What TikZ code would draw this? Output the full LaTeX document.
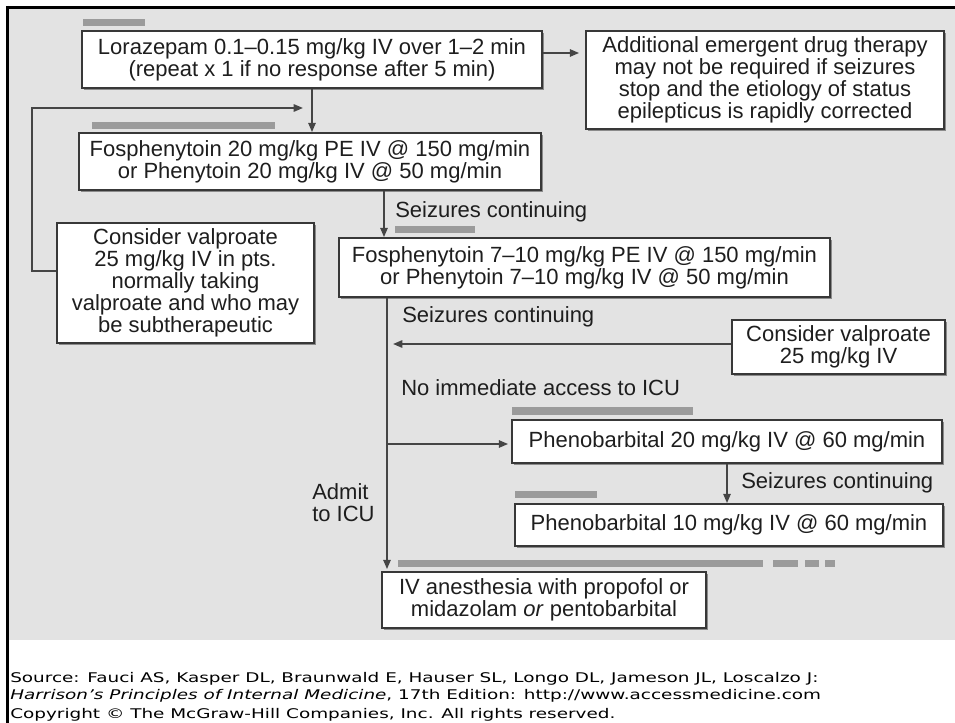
\documentclass[tikz,border=0pt]{standalone}
\usepackage{fontspec}
\setmainfont{Liberation Sans}
\newfontfamily\srcfont[FakeStretch=1.38]{DejaVu Sans}
\usetikzlibrary{arrows.meta,shadows}
\definecolor{panel}{HTML}{E3E3E3}
\definecolor{barc}{HTML}{9B9B9B}
\definecolor{linec}{HTML}{454545}
\definecolor{boxline}{HTML}{383838}
\definecolor{txt}{HTML}{1E1E1E}
\begin{document}
\begin{tikzpicture}[x=0.75pt,y=-0.75pt,
  box/.style={draw=boxline, line width=1.3pt, fill=white, align=center, inner sep=0pt, text=txt,
    font=\fontsize{16.5}{16.4}\selectfont,
    drop shadow={shadow xshift=1.3pt, shadow yshift=-1.3pt, fill=black!60, opacity=0.7}},
  lbl/.style={inner sep=0pt, text=txt, font=\fontsize{16.5}{16}\selectfont},
  conn/.style={draw=linec, line width=1.4pt},
  arr/.style={conn, -{Triangle[length=7pt,width=5.5pt]}},
  bar/.style={fill=barc},
  src/.style={anchor=west, inner sep=0pt, font=\srcfont\fontsize{10}{12}\selectfont}]
\clip (0,0) rectangle (955,723);
\fill[white] (0,0) rectangle (955,723);
\fill[panel] (9,9) rectangle (955,640);
% grey bars
\fill[bar] (83,19) rectangle (145,26);
\fill[bar] (92,122) rectangle (275,129);
\fill[bar] (395,226) rectangle (475,233);
\fill[bar] (512,407) rectangle (693,415);
\fill[bar] (515,491) rectangle (597,498);
\fill[bar] (398,560) rectangle (763,567);
\fill[bar] (773,560) rectangle (798,567);
\fill[bar] (805,560) rectangle (819,567);
\fill[bar] (825,560) rectangle (835,567);
% boxes
\node[box, minimum width=345pt, minimum height=42.75pt] (lor) at (312,59.5)
  {Lorazepam 0.1–0.15 mg/kg IV over 1–2 min\\(repeat x 1 if no response after 5 min)};
\node[box, minimum width=268.5pt, minimum height=73.5pt] (add) at (765,80)
  {Additional emergent drug therapy\\may not be required if seizures\\stop and the etiology of status\\epilepticus is rapidly corrected};
\node[box, minimum width=346.5pt, minimum height=42.75pt] (fos1) at (310,161.5)
  {Fosphenytoin 20 mg/kg PE IV @ 150 mg/min\\or Phenytoin 20 mg/kg IV @ 50 mg/min};
\node[box, minimum width=192.75pt, minimum height=90pt] (valL) at (185.5,283)
  {Consider valproate\\25 mg/kg IV in pts.\\normally taking\\valproate and who may\\be subtherapeutic};
\node[box, minimum width=368.25pt, minimum height=44.25pt] (fos2) at (584.5,267.5)
  {Fosphenytoin 7–10 mg/kg PE IV @ 150 mg/min\\or Phenytoin 7–10 mg/kg IV @ 50 mg/min};
\node[box, minimum width=159.75pt, minimum height=40.5pt] (valR) at (838.5,347)
  {Consider valproate\\25 mg/kg IV};
\node[box, minimum width=322.5pt, minimum height=32.25pt] (pheno1) at (727,441.5)
  {Phenobarbital 20 mg/kg IV @ 60 mg/min};
\node[box, minimum width=321pt, minimum height=31.5pt] (pheno2) at (729,525)
  {Phenobarbital 10 mg/kg IV @ 60 mg/min};
\node[box, minimum width=243pt, minimum height=42pt] (iv) at (544,600)
  {IV anesthesia with propofol or\\midazolam \textit{or} pentobarbital};
% labels
\node[lbl, anchor=west] (s1) at (395,212) {Seizures continuing};
\node[lbl, anchor=west] (s2) at (402,317) {Seizures continuing};
\node[lbl, anchor=west] (noicu) at (401,388) {No immediate access to ICU};
\node[lbl, anchor=west] (s3) at (741,483) {Seizures continuing};
\node[lbl, anchor=west, align=left] (admit) at (312,502.5) {Admit\\to ICU};
% connectors
\coordinate (y53) at (0,53);
\coordinate (y271) at (0,271);
\coordinate (lpc) at (32,108);
\coordinate (lj) at (312,108);
\coordinate (x384) at (384,0);
\coordinate (x387) at (387,0);
\coordinate (m1) at (387,344);
\coordinate (m2) at (387,444);
\draw[arr, shorten >=4.5pt] (lor.east |- y53) -- (add.west |- y53);
\draw[arr] (lor.south) -- (lor.south |- fos1.north);
\draw[arr, shorten >=6.75pt] (valL.west |- y271) -| (lpc) -- (lj);
\draw[arr] (fos1.south -| x384) -- (fos2.north -| x384);
\draw[arr, shorten >=1.5pt] (fos2.south -| x387) -- (iv.north -| x387);
\draw[arr, shorten >=4.5pt] (valR.west |- m1) -- (m1);
\draw[arr, shorten >=2.25pt] (m2) -- (pheno1.west |- m2);
\draw[arr] (pheno1.south) -- (pheno1.south |- pheno2.north);
% footer
\node[src] (src1) at (10,679) {Source: Fauci AS, Kasper DL, Braunwald E, Hauser SL, Longo DL, Jameson JL, Loscalzo J:};
\node[src] (src2) at (10,696) {\textit{Harrison’s Principles of Internal Medicine}, 17th Edition: http://www.accessmedicine.com};
\node[src] (src3) at (10,714.5) {Copyright © The McGraw-Hill Companies, Inc. All rights reserved.};
% frame
\draw[line width=2.25pt] (6,7.5) -- (955,7.5);
\draw[line width=2.25pt] (7.5,6) -- (7.5,723);
\end{tikzpicture}
\end{document}
